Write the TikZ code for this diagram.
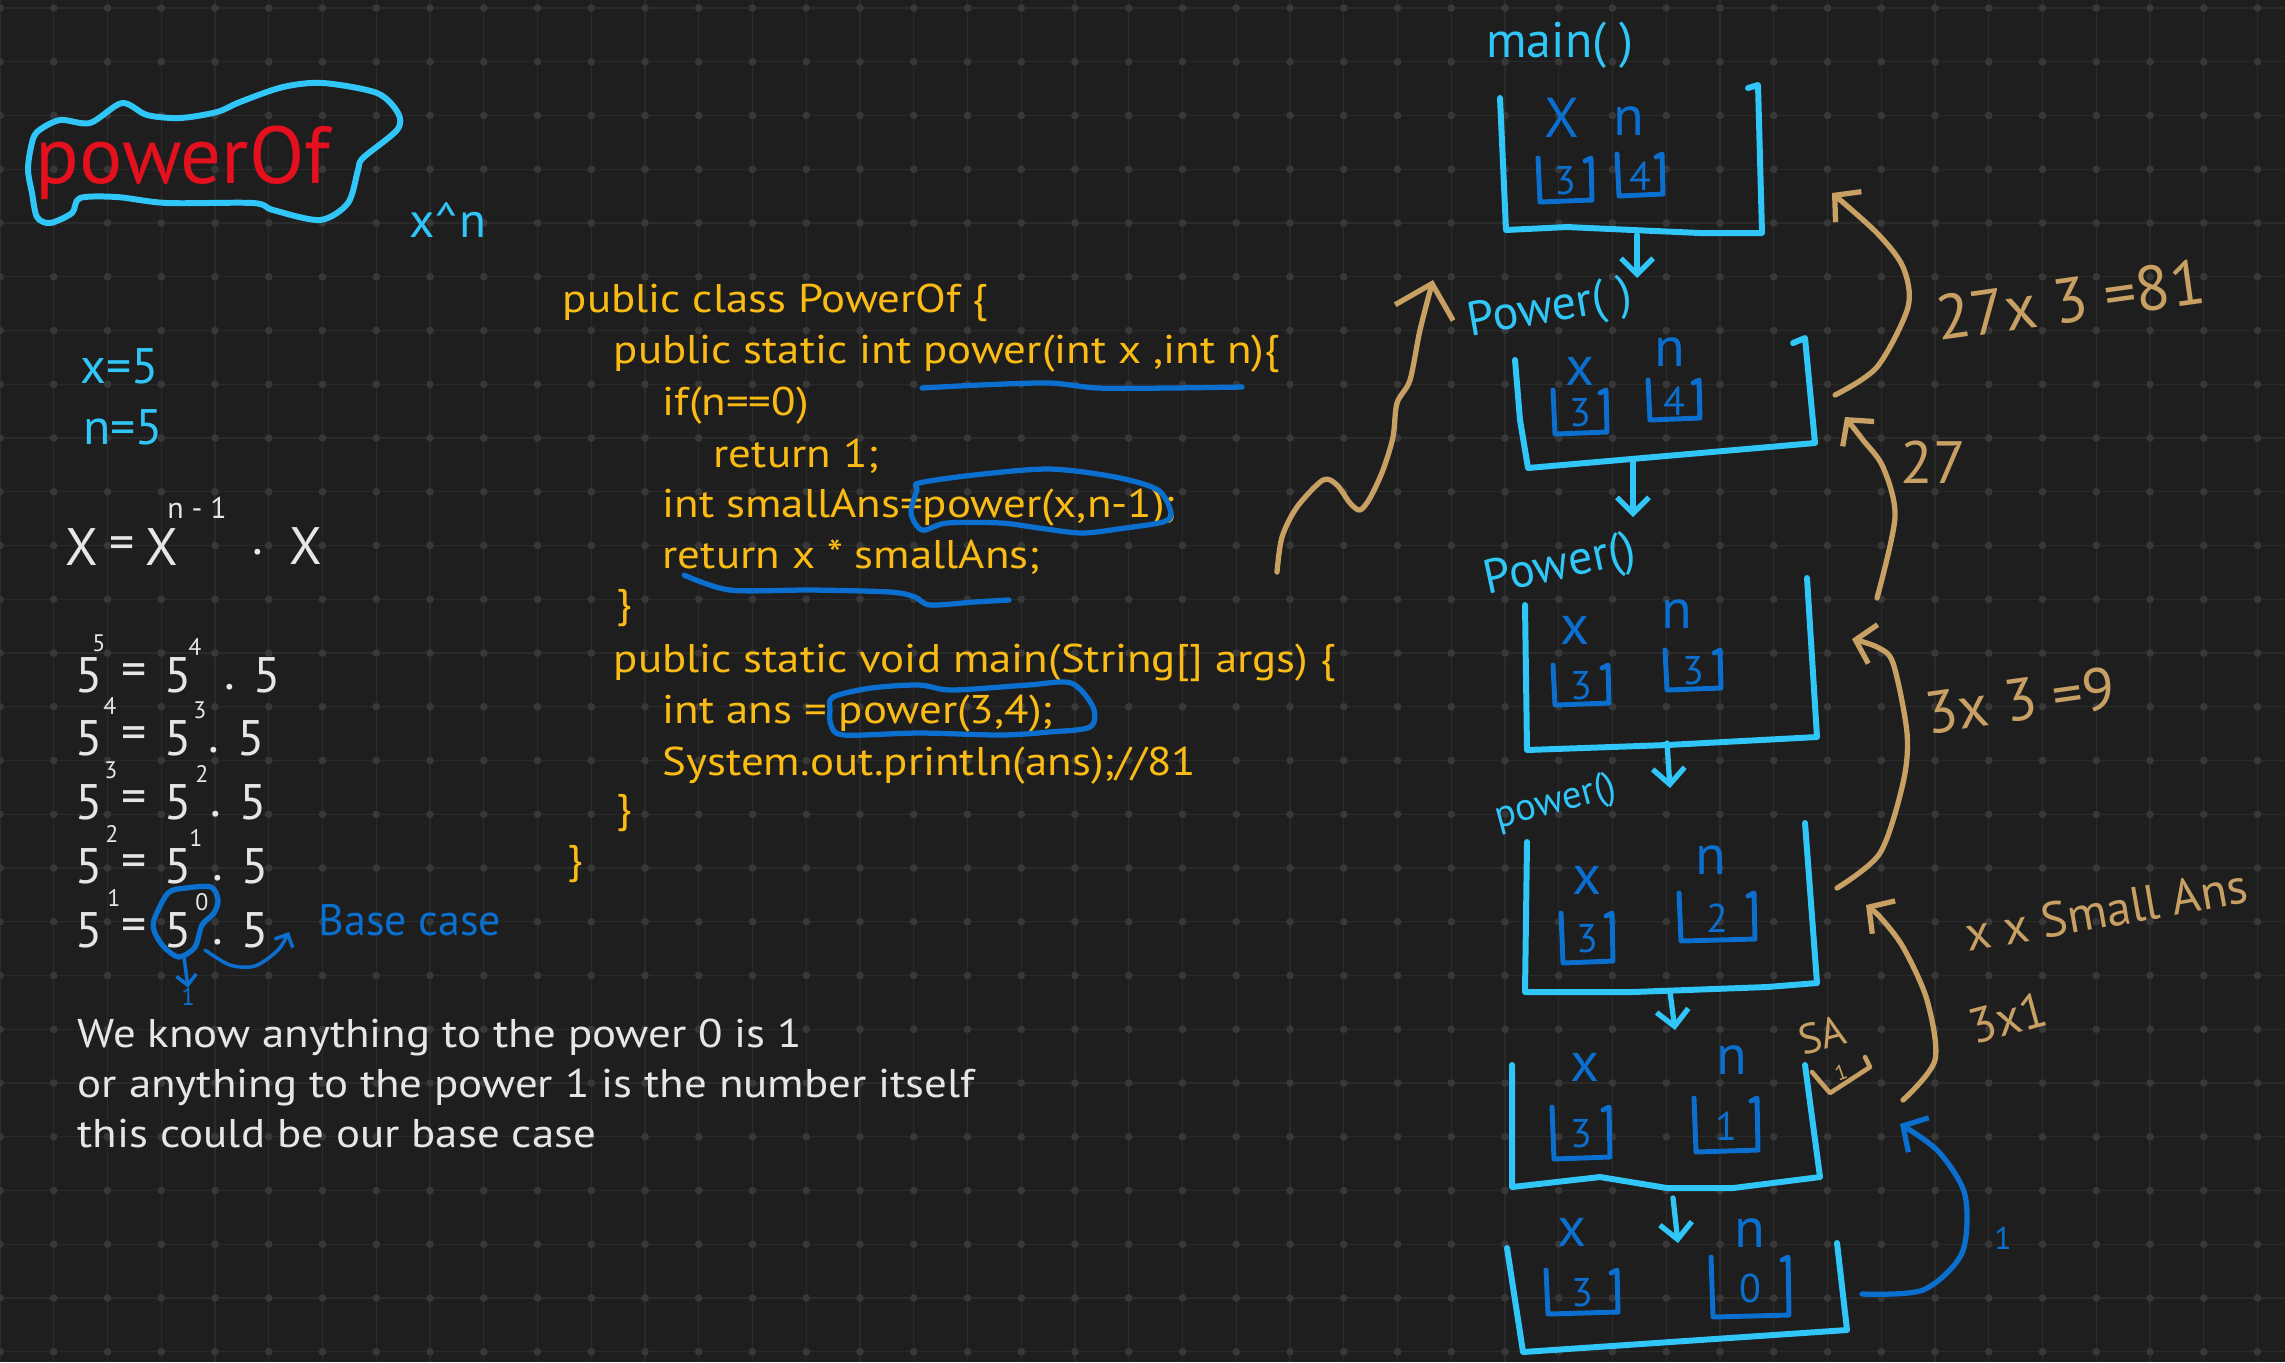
\documentclass[tikz,border=0pt]{standalone}
\usepackage{fontspec}
\setmainfont{PT Sans}
\newfontfamily\handfont[FakeStretch=1.12]{PT Sans}
\usetikzlibrary{arrows.meta}
\definecolor{bg}{HTML}{1E1E1E}
\definecolor{gridc}{HTML}{2A2A2A}
\definecolor{gridd}{HTML}{383838}
\definecolor{cyanink}{HTML}{30C6F7}
\definecolor{blueink}{HTML}{0B6FCF}
\definecolor{codeink}{HTML}{F9BB14}
\definecolor{chalk}{HTML}{E6E6E6}
\definecolor{redink}{HTML}{E4101E}
\definecolor{tanink}{HTML}{C8A064}

\begin{document}
\begin{tikzpicture}[x=0.01cm, y=-0.01cm,
  code/.style = {anchor=base west, inner sep=0pt, text=codeink, font=\handfont\fontsize{11.4}{14}\selectfont},
  note/.style = {anchor=base west, inner sep=0pt, text=chalk, font=\handfont\fontsize{11.4}{14}\selectfont},
  chalkbig/.style = {inner sep=0pt, text=chalk, font=\fontsize{14.2}{17}\selectfont},
  chalksup/.style = {inner sep=0pt, text=chalk, font=\fontsize{6.8}{8}\selectfont},
  cyantext/.style = {inner sep=0pt, text=cyanink, font=\fontsize{14.2}{17}\selectfont},
  vartext/.style = {inner sep=0pt, text=blueink, font=\fontsize{16}{19}\selectfont},
  valtext/.style = {inner sep=0pt, text=blueink, font=\fontsize{11.4}{13}\selectfont},
  tantext/.style = {inner sep=0pt, text=tanink, font=\fontsize{17}{20}\selectfont},
  gridline/.style = {draw=gridc, line width=0.4pt},
  frame/.style = {draw=cyanink, line width=1.7pt, line cap=round, line join=round},
  valline/.style = {draw=blueink, line width=1.4pt, line cap=round, line join=round},
  marker/.style = {draw=blueink, line width=1.5pt, line cap=round, line join=round},
  callarrow/.style = {draw=cyanink, line width=1.5pt, line cap=round, -{Straight Barb[length=1.6mm, width=3.2mm]}},
  ret/.style = {draw=tanink, line width=1.5pt, line cap=round, line join=round, -{Straight Barb[length=1.8mm, width=4mm]}},
]

%% board
\fill[bg] (0,0) rectangle (2285,1362);
\useasboundingbox (0,0) rectangle (2285,1362);
\foreach \i in {0,...,42} \draw[gridline] ({\i*53.75},0) -- ({\i*53.75},1362);
\foreach \j in {0,...,25} \draw[gridline] (0,{8+\j*53.75}) -- (2285,{8+\j*53.75});
\foreach \i in {0,...,42} \foreach \j in {0,...,25} \fill[gridd] ({\i*53.75},{8+\j*53.75}) circle (1.1pt);

%% title
\node[inner sep=0pt, text=redink, font=\fontsize{23}{27}\selectfont] (title) at (183,163) {powerOf};
\draw[frame] plot[smooth cycle] coordinates {(31,147) (37,132) (60,120) (90,123) (122,103) (147,115) (180,118) (217,112) (240,102) (283,87) (323,83) (377,93) (398,113) (397,130) (363,158) (358,170) (348,203) (320,220) (273,210) (253,203) (167,203) (117,197) (80,198) (72,213) (50,223) (37,217) (32,193) (28,170)};
\node[cyantext, font=\fontsize{14}{16}\selectfont] (xpow) at (448,220) {x\textasciicircum n};
\node[cyantext] (xval) at (120,366) {x=5};
\node[cyantext] (nval) at (123,427) {n=5};

%% recurrence
\node[chalkbig, font=\fontsize{15}{18}\selectfont] (fx) at (82,547) {X};
\node[chalkbig] (feq) at (122,548) {=};
\node[chalkbig, font=\fontsize{15}{18}\selectfont] (fxa) at (162,547) {X};
\node[chalksup, font=\fontsize{8.5}{10}\selectfont] (fexp) at (197,508) {n - 1};
\node[chalkbig] (fdot) at (258,552) {.};
\node[chalkbig, font=\fontsize{15}{18}\selectfont] (fxb) at (306,546) {X};

\foreach \r/\ry/\ea/\eax/\eb/\ebx/\cx in {1/675/5/99/4/195/267, 2/738/4/110/3/200/251, 3/802/3/111/2/202/253, 4/866/2/112/1/196/255, 5/930/1/114/0/202/255} {
  \node[chalkbig] (r\r-a) at (89,\ry) {5};
  \node[chalksup] (r\r-ae) at (\eax,\ry-32) {\ea};
  \node[chalkbig] (r\r-eq) at (134,\ry) {=};
  \node[chalkbig] (r\r-b) at (178,\ry) {5};
  \node[chalksup] (r\r-be) at (\ebx,\ry-28) {\eb};
  \node[chalkbig] (r\r-dot) at (\cx-37,\ry+12) {.};
  \node[chalkbig] (r\r-c) at (\cx,\ry) {5};
}
\draw[marker] plot[smooth cycle] coordinates {(154,920) (168,893) (186,888) (211,887) (218,900) (214,913) (202,925) (195,947) (179,957) (164,947) (155,933)};
\coordinate (blobbot) at (184,957);
\coordinate (blobright) at (205,950);
\node[inner sep=0pt, text=blueink, font=\fontsize{7}{8}\selectfont] (one) at (188,997) {1};
\node[inner sep=0pt, text=blueink, font=\fontsize{12.5}{15}\selectfont] (basecase) at (410,920) {Base case};
\draw[marker, line width=1pt, -{Straight Barb[length=1mm, width=2mm]}] (blobbot) -- (one.north);
\draw[marker, line width=1pt, -{Straight Barb[length=1mm, width=2mm]}] plot[smooth] coordinates {(blobright) (230,965) (255,966) (278,950) (289,932)};

%% notes
\node[note] (note1) at (77,1047) {We know anything to the power 0 is 1};
\node[note] (note2) at (77,1097) {or anything to the power 1 is the number itself};
\node[note] (note3) at (77,1147) {this could be our base case};

%% code
\node[code] (c1) at (562,312) {public class PowerOf \{};
\node[code] (c2) at (613,363) {public static int power(int x ,int n)\{};
\node[code] (c3) at (662,415) {if(n==0)};
\node[code] (c4) at (713,467) {return 1;};
\node[code] (c5) at (662,517) {int smallAns=power(x,n-1);};
\node[code] (c6) at (662,568) {return x * smallAns;};
\node[code] (c7) at (616,617) {\}};
\node[code] (c8) at (613,672) {public static void main(String[] args) \{};
\node[code] (c9) at (662,723) {int ans = power(3,4);};
\node[code] (c10) at (662,775) {System.out.println(ans);//81};
\node[code] (c11) at (616,822) {\}};
\node[code] (c12) at (567,873) {\}};

\draw[marker] plot[smooth] coordinates {(922,388) (980,385) (1049,383) (1098,388) (1170,388) (1242,387)};
\draw[marker] plot[smooth cycle] coordinates {(919,483) (974,475) (1049,469) (1115,477) (1158,490) (1171,513) (1163,522) (1125,528) (1082,533) (1039,528) (1001,523) (947,523) (922,530) (911,513) (917,490)};
\draw[marker] plot[smooth] coordinates {(684,575) (730,590) (811,590) (890,592) (915,597) (930,605) (974,602) (1009,600)};
\draw[marker] plot[smooth cycle] coordinates {(833,697) (871,688) (919,685) (952,690) (1028,685) (1071,683) (1093,707) (1090,727) (1049,732) (1001,735) (919,733) (844,735) (831,725) (830,710)};

%% call stack
\node[cyantext] (mainlbl) at (1560,45) {main( )};
\draw[frame] (1500,98) -- (1506,230) -- (1567,227) -- (1633,230) -- (1700,233) -- (1762,233) -- (1758,85) -- (1748,88);
\node[cyantext, font=\fontsize{13.7}{16}\selectfont, rotate=10] (p1lbl) at (1550,310) {Power( )};
\draw[frame] (1515,360) -- (1520,420) -- (1528,468) -- (1815,443) -- (1805,338) -- (1793,343);
\node[cyantext, font=\fontsize{13.7}{16}\selectfont, rotate=12] (p2lbl) at (1560,567) {Power()};
\draw[frame] (1525,605) -- (1527,750) -- (1667,745) -- (1817,737) -- (1807,578);
\node[cyantext, font=\fontsize{11}{13}\selectfont, rotate=15] (p3lbl) at (1556,803) {power()};
\draw[frame] (1527,842) -- (1525,992) -- (1633,992) -- (1767,987) -- (1817,983) -- (1805,823);
\draw[frame] (1512,1065) -- (1512,1187) -- (1600,1177) -- (1667,1188) -- (1733,1188) -- (1820,1177) -- (1805,1065);
\draw[frame] (1507,1248) -- (1523,1352) -- (1847,1330) -- (1837,1243);

\foreach \lx/\ly/\lt/\ln in {1562/118/X/mx, 1629/121/n/mn, 1580/371/x/p1x, 1670/352/n/p1n, 1575/630/x/p2x, 1677/614/n/p2n, 1587/880/x/p3x, 1711/860/n/p3n, 1585/1067/x/p4x, 1732/1060/n/p4n, 1572/1232/x/p5x, 1750/1233/n/p5n}
  \node[vartext] (\ln) at (\lx,\ly) {\lt};

\foreach \vx/\vy/\vw/\vh/\vv/\vn in {1565/180/27/22/3/mxv, 1640/175/23/21/4/mnv, 1580/412/27/22/3/p1xv, 1674/400/26/20/4/p1nv, 1581/685/28/20/3/p2xv, 1693/670/28/20/3/p2nv, 1587/938/26/25/3/p3xv, 1717/917/38/24/2/p3nv, 1581/1133/29/26/3/p4xv, 1726/1125/32/27/1/p4nv, 1582/1292/36/22/3/p5xv, 1750/1287/39/30/0/p5nv} {
  \draw[valline] (\vx-\vw,\vy-\vh) -- (\vx-\vw+2,\vy+\vh) -- (\vx+\vw,\vy+\vh-2) -- (\vx+\vw-1,\vy-\vh) -- (\vx+\vw-7,\vy-\vh+3);
  \node[valtext] (\vn) at (\vx,\vy+1) {\vv};
}

\coordinate (mainbot) at (1637,235);
\coordinate (p1top) at (1637,278);
\coordinate (p1bot) at (1633,462);
\coordinate (p2top) at (1633,517);
\coordinate (p2bot) at (1667,743);
\coordinate (p3top) at (1670,788);
\coordinate (p3bot) at (1670,992);
\coordinate (p4top) at (1675,1030);
\coordinate (p4bot) at (1673,1198);
\coordinate (p5top) at (1678,1243);
\draw[callarrow] (mainbot) -- (p1top);
\draw[callarrow] (p1bot) -- (p2top);
\draw[callarrow] (p2bot) -- (p3top);
\draw[callarrow] (p3bot) -- (p4top);
\draw[callarrow] (p4bot) -- (p5top);

%% small answer
\node[tantext, font=\fontsize{12}{14}\selectfont, rotate=15] (salbl) at (1822,1035) {SA};
\draw[draw=tanink, line width=1.3pt, line cap=round, line join=round] (1812,1072) -- (1830,1093) -- (1870,1067) -- (1865,1057);
\node[tantext, font=\fontsize{6}{7}\selectfont, rotate=20] (saval) at (1841,1072) {1};

%%% returns
\node[inner sep=0pt, text=blueink, font=\fontsize{9}{10}\selectfont] (retone) at (2003,1238) {1};
\draw[marker, -{Straight Barb[length=1.8mm, width=4mm]}] plot[smooth] coordinates {(1862,1294) (1923,1290) (1962,1253) (1965,1195) (1938,1151) (1900,1124)};

\node[tantext, font=\fontsize{14}{17}\selectfont, rotate=15] (m31) at (2008,1018) {3x1};
\node[tantext, font=\fontsize{14}{17}\selectfont, anchor=base west, rotate=10] (rule) at (1968,952) {x x Small Ans};
\draw[ret] plot[smooth] coordinates {(1903,1100) (1935,1060) (1927,1000) (1903,947) (1880,917) (1866,905)};

\node[tantext, rotate=8] (m33) at (2020,700) {3x 3 =9};
\draw[ret] plot[smooth] coordinates {(1837,888) (1880,853) (1903,783) (1907,733) (1893,663) (1877,647) (1852,639)};

\node[tantext] (m27) at (1933,462) {27};
\draw[ret] plot[smooth] coordinates {(1877,598) (1895,517) (1883,467) (1863,440) (1845,417)};

\node[tantext, font=\fontsize{18}{21}\selectfont, rotate=8] (m81) at (2070,300) {27x 3 =81};
\draw[ret] plot[smooth] coordinates {(1835,395) (1877,367) (1908,307) (1903,267) (1877,233) (1832,193)};

\draw[ret, -{Straight Barb[length=3mm, width=6mm]}] plot[smooth] coordinates {(1277,572) (1282,537) (1297,507) (1323,480) (1337,485) (1350,503) (1360,510) (1370,498) (1383,470) (1393,437) (1397,403) (1410,380) (1420,330) (1433,280)};

\end{tikzpicture}
\end{document}
